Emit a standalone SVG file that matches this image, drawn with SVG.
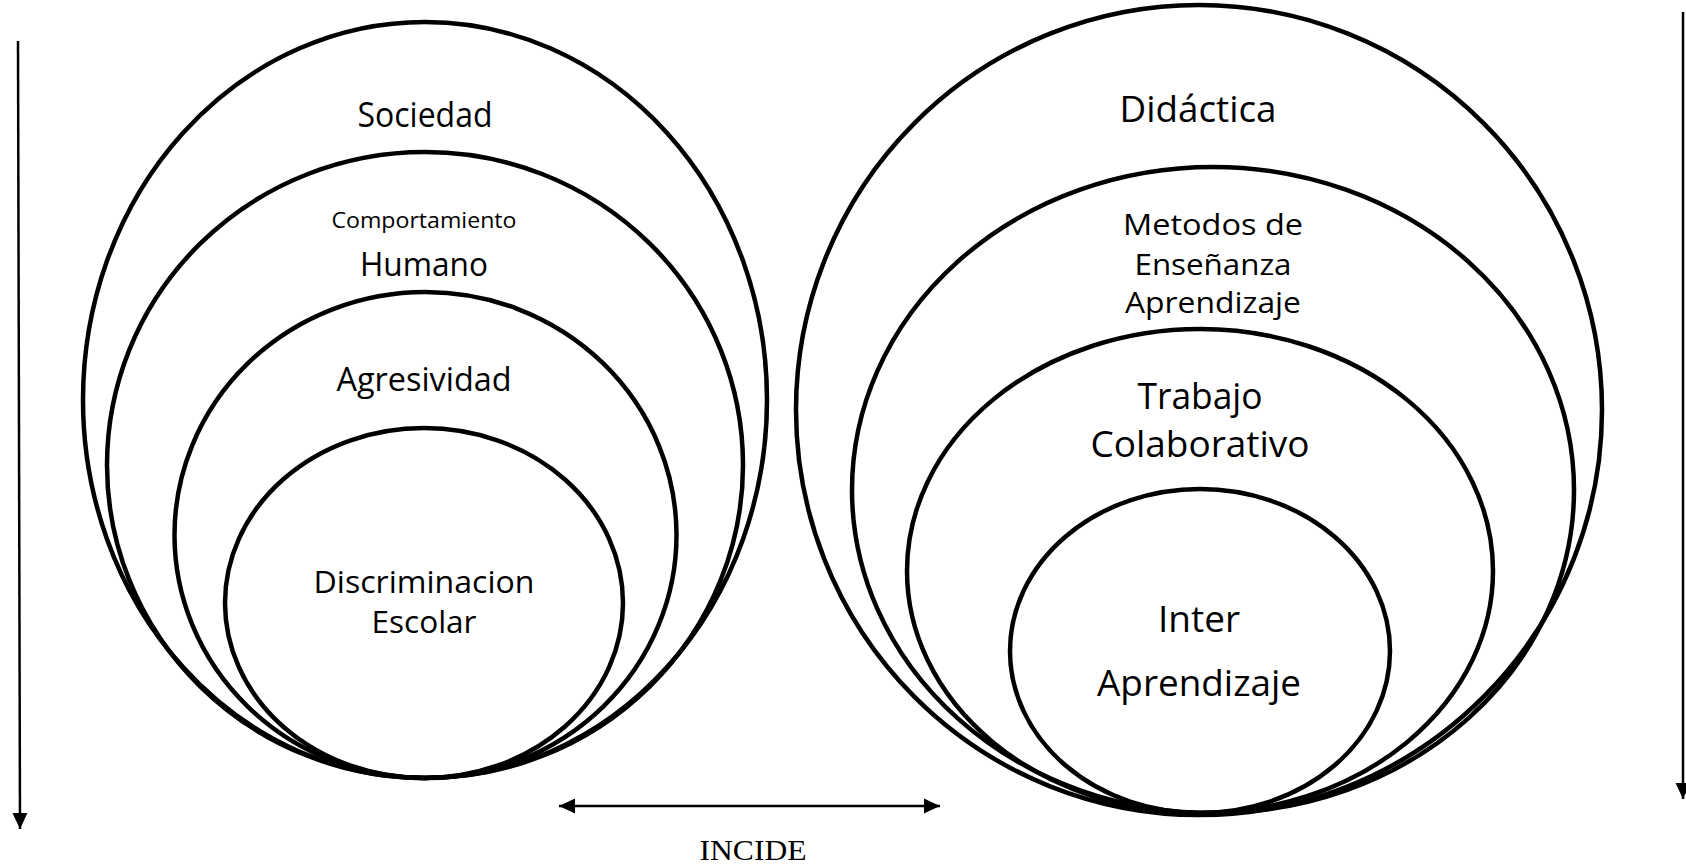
<svg xmlns="http://www.w3.org/2000/svg" width="1686" height="866" viewBox="0 0 1686 866">
<style>
.ring{fill:none;stroke:#000;stroke-width:4.5}
.lbl{font-family:"Open Sans","Noto Sans","Liberation Sans",sans-serif;fill:#000;text-anchor:middle}
.conn{stroke:#000;stroke-width:2.5;fill:none}
.cap{font-family:"Liberation Serif","Times New Roman",serif;fill:#000;text-anchor:middle}
</style>
<defs>
<marker id="ah" markerUnits="userSpaceOnUse" markerWidth="16" markerHeight="16" refX="16" refY="8" orient="auto-start-reverse" viewBox="0 0 16 16">
<path d="M0,0.5 L16,8 L0,15.5 z" fill="#000"/>
</marker>
</defs>
<rect width="1686" height="866" fill="#fff"/>
<g id="connectors">
<line class="conn" x1="18" y1="41" x2="20" y2="829" marker-end="url(#ah)"/>
<line class="conn" x1="1683" y1="12" x2="1683" y2="799" marker-end="url(#ah)"/>
<line class="conn" x1="559" y1="806" x2="940" y2="806" marker-start="url(#ah)" marker-end="url(#ah)"/>
</g>
<g id="sociedad">
<ellipse class="ring" cx="425" cy="400" rx="342" ry="378"/>
<text class="lbl" x="425" y="127" font-size="34" textLength="135" lengthAdjust="spacingAndGlyphs">Sociedad</text>
</g>
<g id="comportamiento-humano">
<ellipse class="ring" cx="425" cy="465" rx="318" ry="313"/>
<text class="lbl" x="424" y="228" font-size="22" textLength="185" lengthAdjust="spacingAndGlyphs">Comportamiento</text>
<text class="lbl" x="424" y="276" font-size="32" textLength="128" lengthAdjust="spacingAndGlyphs">Humano</text>
</g>
<g id="agresividad">
<ellipse class="ring" cx="425.5" cy="535" rx="251" ry="243"/>
<text class="lbl" x="424" y="391" font-size="33" textLength="175" lengthAdjust="spacingAndGlyphs">Agresividad</text>
</g>
<g id="discriminacion">
<ellipse class="ring" cx="424" cy="603" rx="199" ry="175"/>
<text class="lbl" x="424" y="593" font-size="31" textLength="221" lengthAdjust="spacingAndGlyphs">Discriminacion</text>
<text class="lbl" x="424" y="633" font-size="31" textLength="105" lengthAdjust="spacingAndGlyphs">Escolar</text>
</g>
<g id="didactica">
<ellipse class="ring" cx="1199" cy="410" rx="403" ry="405"/>
<text class="lbl" x="1198" y="122" font-size="37" textLength="157" lengthAdjust="spacingAndGlyphs">Didáctica</text>
</g>
<g id="metodos">
<ellipse class="ring" cx="1213" cy="490" rx="361" ry="323"/>
<text class="lbl" x="1213" y="235" font-size="29" textLength="180" lengthAdjust="spacingAndGlyphs">Metodos de</text>
<text class="lbl" x="1213" y="275" font-size="29" textLength="157" lengthAdjust="spacingAndGlyphs">Enseñanza</text>
<text class="lbl" x="1213" y="313" font-size="29" textLength="176" lengthAdjust="spacingAndGlyphs">Aprendizaje</text>
</g>
<g id="trabajo">
<ellipse class="ring" cx="1200" cy="571" rx="293" ry="242"/>
<text class="lbl" x="1200" y="409" font-size="36" textLength="125" lengthAdjust="spacingAndGlyphs">Trabajo</text>
<text class="lbl" x="1200" y="457" font-size="36" textLength="219" lengthAdjust="spacingAndGlyphs">Colaborativo</text>
</g>
<g id="inter">
<ellipse class="ring" cx="1200" cy="651" rx="190" ry="162"/>
<text class="lbl" x="1199" y="632" font-size="37" textLength="82" lengthAdjust="spacingAndGlyphs">Inter</text>
<text class="lbl" x="1199" y="696" font-size="37" textLength="204" lengthAdjust="spacingAndGlyphs">Aprendizaje</text>
</g>
<text class="cap" x="753" y="860" font-size="29" textLength="107" lengthAdjust="spacingAndGlyphs">INCIDE</text>
</svg>
